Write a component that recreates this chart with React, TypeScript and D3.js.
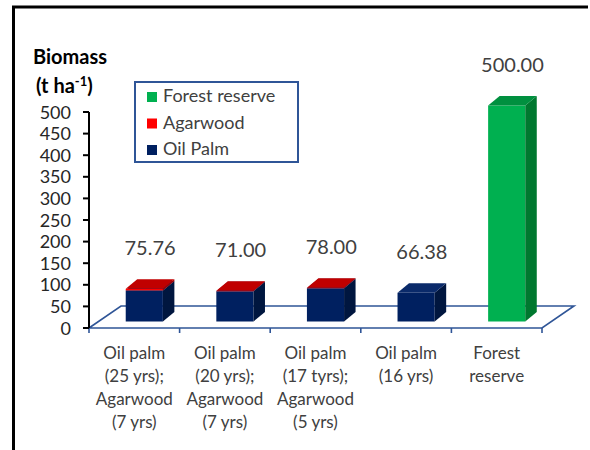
import React from "react";
import * as d3 from "d3";

const categories: string[][] = [
  ["Oil palm", "(25 yrs);", "Agarwood", "(7 yrs)"],
  ["Oil palm", "(20 yrs);", "Agarwood", "(7 yrs)"],
  ["Oil palm", "(17 tyrs);", "Agarwood", "(5 yrs)"],
  ["Oil palm", "(16 yrs)"],
  ["Forest", "reserve"],
];
const oilPalm = [72.0, 70.0, 77.0, 66.38, 0];
const agarwood = [3.76, 1.0, 1.0, 0, 0];
const forestReserve = [0, 0, 0, 0, 500];
const totals = ["75.76", "71.00", "78.00", "66.38", "500.00"];
const yTicks = [0, 50, 100, 150, 200, 250, 300, 350, 400, 450, 500];

const seriesDefs = [
  { name: "Oil Palm", values: oilPalm, front: "#002060", side: "#00163F", top: "#0A2A6A", legend: "#002060" },
  { name: "Agarwood", values: agarwood, front: "#FF0000", side: "#A00000", top: "#C00000", legend: "#FF0000" },
  { name: "Forest reserve", values: forestReserve, front: "#00B050", side: "#00782F", top: "#00903F", legend: "#00B050" },
];
const legendOrder = ["Forest reserve", "Agarwood", "Oil Palm"];

const FONT = "Lato, 'Open Sans', sans-serif";
const BLUE = "#2F5597";

export default function App() {
  const W = 590, H = 450;
  const left = 89, right = 542;
  const y0 = 328, yTop = 112;
  const floorDx = 32, floorDy = -22;
  const shiftX = 10, shiftY = -6.5;
  const depthX = 11.5, depthY = -9.5;

  const idx = categories.map((_, i) => String(i));
  const x = d3.scaleBand<string>().domain(idx).range([left, right]).padding(0);
  const y = d3.scaleLinear().domain([0, 500]).range([y0, yTop]);
  const bw = x.bandwidth();
  const barW = bw * 0.41;

  const bars: JSX.Element[] = [];
  categories.forEach((_, i) => {
    const bx = (x(String(i)) as number) + (bw - barW) / 2 + shiftX;
    let acc = 0;
    seriesDefs.forEach((s, si) => {
      const v = s.values[i];
      if (!v) return;
      const yb = y(acc) + shiftY;
      acc += v;
      const yt = y(acc) + shiftY;
      const key = `${i}-${si}`;
      bars.push(
        <g key={key}>
          <rect x={bx} y={yt} width={barW} height={yb - yt} fill={s.front} />
          <path
            d={`M${bx + barW},${yb} L${bx + barW + depthX},${yb + depthY} L${bx + barW + depthX},${yt + depthY} L${bx + barW},${yt} Z`}
            fill={s.side}
          />
          <path
            d={`M${bx},${yt} L${bx + depthX},${yt + depthY} L${bx + barW + depthX},${yt + depthY} L${bx + barW},${yt} Z`}
            fill={s.top}
          />
        </g>
      );
    });
  });

  const labels = categories.map((_, i) => {
    const total = oilPalm[i] + agarwood[i] + forestReserve[i];
    const cx = (x(String(i)) as number) + bw / 2 + shiftX + depthX / 2;
    return (
      <text key={i} x={cx} y={y(total) + shiftY - 34} textAnchor="middle" fontSize={20} fill="#404040" fontFamily={FONT}>
        {totals[i]}
      </text>
    );
  });

  return (
    <svg width={W} height={H} style={{ position: "absolute", left: 0, top: 0, background: "#fff" }}>
      {/* frame */}
      <line x1={12} y1={7} x2={588} y2={7} stroke="#000" strokeWidth={3} />
      <line x1={13.5} y1={6} x2={13.5} y2={450} stroke="#000" strokeWidth={3} />

      {/* axis title */}
      <text x={33} y={64} fontSize={20} fontWeight={700} fill="#000" fontFamily={FONT}>Biomass</text>
      <text x={36} y={93} fontSize={20} fontWeight={700} fill="#000" fontFamily={FONT}>
        (t ha<tspan dy={-7} fontSize={13}>-1</tspan><tspan dy={7}>)</tspan>
      </text>

      {/* floor */}
      <path
        d={`M${left},${y0} L${left + floorDx},${y0 + floorDy} L${right + floorDx},${y0 + floorDy} L${right},${y0} Z`}
        fill="none"
        stroke={BLUE}
        strokeWidth={1.6}
      />
      {d3.range(categories.length + 1).map((k) => {
        const tx = left + k * bw;
        return <line key={k} x1={tx} y1={y0} x2={tx} y2={y0 + 5} stroke={BLUE} strokeWidth={1.6} />;
      })}

      {/* y axis */}
      <line x1={left} y1={yTop} x2={left} y2={y0} stroke="#000" strokeWidth={2} />
      {yTicks.map((t) => (
        <g key={t}>
          <line x1={left - 6} y1={y(t)} x2={left} y2={y(t)} stroke="#000" strokeWidth={2} />
          <text x={71} y={y(t) + 6.5} textAnchor="end" fontSize={18} fill="#262626" fontFamily={FONT}>
            {t}
          </text>
        </g>
      ))}

      {bars}
      {labels}

      {/* category labels */}
      {categories.map((lines, i) => (
        <text key={i} textAnchor="middle" fontSize={17} fill="#404040" fontFamily={FONT}>
          {lines.map((ln, j) => (
            <tspan key={j} x={(x(String(i)) as number) + bw / 2} y={359 + j * 23}>
              {ln}
            </tspan>
          ))}
        </text>
      ))}

      {/* legend */}
      <rect x={135} y={82} width={163} height={80} fill="#fff" stroke={BLUE} strokeWidth={2} />
      {legendOrder.map((name, k) => {
        const s = seriesDefs.find((d) => d.name === name)!;
        const by = 102 + k * 26.5;
        return (
          <g key={name}>
            <rect x={147} y={by - 10} width={10} height={10} fill={s.legend} />
            <text x={163} y={by} fontSize={18} fill="#404040" fontFamily={FONT}>
              {name}
            </text>
          </g>
        );
      })}
    </svg>
  );
}
